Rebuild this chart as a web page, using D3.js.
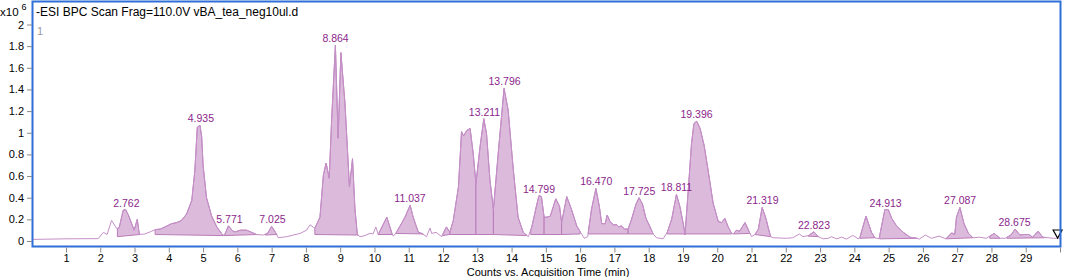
<!DOCTYPE html>
<html><head><meta charset="utf-8">
<script src="https://cdn.jsdelivr.net/npm/d3@7"></script>
<style>body{margin:0;background:#fff}svg{display:block}text{font-family:Arial,"Liberation Sans",sans-serif}</style>
</head><body><svg id="c" width="1065" height="277"></svg>
<script>
// retention time (min) and intensity (x10^6)
const traceTime = [0,0.05,1.0,1.94,2.09,2.2,2.33,2.48,2.55,2.67,2.74,2.82,2.99,3.08,3.14,3.3,3.5,3.6,3.75,3.89,4.08,4.23,4.37,4.52,4.67,4.76,4.83,4.91,4.96,5.0,5.1,5.25,5.4,5.56,5.62,5.74,5.87,5.95,6.08,6.27,6.56,6.76,6.88,7.0,7.15,7.19,7.44,7.83,8.02,8.12,8.26,8.41,8.51,8.59,8.68,8.75,8.86,8.94,9.02,9.14,9.27,9.36,9.43,9.5,9.58,9.72,9.87,9.96,10.04,10.11,10.36,10.52,10.55,10.62,10.75,10.89,11.04,11.13,11.28,11.38,11.52,11.62,11.67,11.8,11.96,12.1,12.2,12.3,12.45,12.54,12.6,12.69,12.79,12.88,12.96,13.08,13.19,13.27,13.37,13.47,13.61,13.78,13.9,14.05,14.19,14.34,14.49,14.59,14.73,14.8,14.87,14.95,15.03,15.13,15.29,15.4,15.46,15.61,15.75,15.9,16.05,16.12,16.22,16.33,16.46,16.56,16.63,16.73,16.79,16.87,16.97,17.07,17.13,17.2,17.3,17.4,17.5,17.63,17.72,17.82,17.92,18.04,18.13,18.23,18.42,18.54,18.67,18.81,18.91,19.02,19.06,19.15,19.25,19.32,19.4,19.5,19.62,19.75,19.88,20.03,20.13,20.22,20.32,20.42,20.47,20.56,20.65,20.81,20.94,21.0,21.1,21.2,21.31,21.42,21.49,21.56,21.63,22.02,22.2,22.4,22.5,22.66,22.82,22.95,23.09,23.24,23.33,23.48,23.63,23.77,23.92,23.97,24.11,24.16,24.34,24.5,24.6,24.72,24.84,24.89,24.99,25.09,25.23,25.43,25.62,25.82,25.9,26.07,26.25,26.47,26.67,26.84,26.93,26.98,27.08,27.2,27.33,27.46,27.65,27.85,28.08,28.25,28.4,28.57,28.69,28.83,28.95,29.1,29.2,29.36,29.5,29.8,30.0];
const traceValue = [0.01,0.015,0.02,0.022,0.08,0.06,0.19,0.115,0.12,0.285,0.29,0.24,0.10,0.20,0.06,0.065,0.09,0.105,0.11,0.13,0.16,0.17,0.19,0.25,0.375,0.65,1.05,1.07,0.96,0.70,0.40,0.23,0.13,0.06,0.05,0.14,0.09,0.085,0.10,0.10,0.06,0.055,0.07,0.135,0.06,0.03,0.04,0.07,0.10,0.15,0.117,0.22,0.61,0.72,0.58,1.12,1.81,0.95,1.74,1.27,0.50,0.76,0.30,0.06,0.04,0.05,0.07,0.065,0.13,0.06,0.22,0.06,0.045,0.07,0.14,0.22,0.33,0.22,0.08,0.07,0.04,0.12,0.07,0.08,0.04,0.13,0.08,0.19,0.50,1.01,0.97,1.02,1.04,0.81,0.53,0.87,1.13,0.99,0.56,0.29,0.81,1.41,1.21,0.66,0.22,0.08,0.04,0.13,0.33,0.42,0.41,0.22,0.22,0.23,0.39,0.32,0.17,0.41,0.29,0.14,0.06,0.025,0.04,0.29,0.485,0.32,0.16,0.16,0.24,0.18,0.15,0.15,0.13,0.14,0.11,0.11,0.20,0.34,0.40,0.34,0.21,0.13,0.065,0.03,0.02,0.08,0.20,0.43,0.32,0.14,0.06,0.45,0.90,1.085,1.106,1.04,0.88,0.62,0.35,0.18,0.17,0.21,0.13,0.07,0.065,0.10,0.09,0.17,0.08,0.04,0.06,0.11,0.31,0.21,0.12,0.04,0.03,0.025,0.03,0.065,0.04,0.05,0.085,0.04,0.02,0.025,0.04,0.02,0.035,0.018,0.045,0.05,0.02,0.03,0.23,0.08,0.03,0.02,0.21,0.29,0.29,0.21,0.14,0.08,0.035,0.025,0.018,0.055,0.025,0.045,0.02,0.075,0.06,0.22,0.31,0.16,0.07,0.03,0.035,0.025,0.07,0.025,0.025,0.055,0.11,0.055,0.06,0.06,0.035,0.09,0.035,0.025,0.025];

// integrated peak regions: start/end time and baseline at each end
const peakStart = [2.5,3.6,5.62,6.81,8.26,10.11,10.62,11.98,12.2,12.96,13.47,14.56,14.95,15.46,16.24,17.4,18.54,19.06,20.47,21.1,22.65,24.16,24.74,26.67,27.95,28.45];
const peakEnd   = [3.15,5.6,6.6,7.15,9.53,10.52,11.42,12.2,12.96,13.47,14.44,14.95,15.46,16.0,17.4,18.13,19.06,20.42,20.95,21.56,22.95,24.6,25.82,27.46,28.25,29.55];
const baseStart = [0.04,0.06,0.05,0.055,0.06,0.06,0.07,0.05,0.06,0.06,0.06,0.06,0.06,0.06,0.065,0.065,0.065,0.065,0.065,0.06,0.045,0.025,0.02,0.02,0.025,0.025];
const baseEnd   = [0.06,0.05,0.06,0.06,0.055,0.06,0.065,0.06,0.06,0.06,0.05,0.06,0.06,0.065,0.065,0.065,0.065,0.065,0.07,0.04,0.04,0.03,0.025,0.03,0.025,0.03];

// peak labels: retention time text and apex height
const labelText = ["2.762","4.935","5.771","7.025","8.864","11.037","13.211","13.796","14.799","16.470","17.725","18.811","19.396","21.319","22.823","24.913","27.087","28.675"];
const labelApex = [0.29,1.07,0.14,0.135,1.81,0.33,1.13,1.41,0.42,0.485,0.40,0.43,1.106,0.31,0.085,0.29,0.31,0.11];

const yTicks = [0,0.2,0.4,0.6,0.8,1,1.2,1.4,1.6,1.8,2];
const xTicks = [1,2,3,4,5,6,7,8,9,10,11,12,13,14,15,16,17,18,19,20,21,22,23,24,25,26,27,28,29,30];

const title = "-ESI BPC Scan Frag=110.0V vBA_tea_neg10ul.d";
const xTitle = "Counts vs. Acquisition Time (min)";

const svg = d3.select("#c");
const x = d3.scaleLinear().domain([0,30]).range([31.7,1060]);
const y = d3.scaleLinear().domain([0,2]).range([241,24.5]);

const pts = traceTime.map((t,i)=>[t,traceValue[i]]);
const interp = t => {
  const i = d3.bisector(d=>d[0]).right(pts,t);
  if (i<=0) return pts[0][1];
  if (i>=pts.length) return pts[pts.length-1][1];
  const a = pts[i-1], b = pts[i];
  return a[1] + (b[1]-a[1])*(t-a[0])/(b[0]-a[0]);
};
const line = d3.line().x(d=>x(d[0])).y(d=>y(d[1]));

const plot = svg.append("g");
// peak fills
peakStart.forEach((s,i)=>{
  const e = peakEnd[i];
  const poly = [[s,baseStart[i]],[s,interp(s)]]
    .concat(pts.filter(p=>p[0]>s && p[0]<e))
    .concat([[e,interp(e)],[e,baseEnd[i]]]);
  plot.append("path").attr("d", line(poly)+"Z")
    .attr("fill","#dcbadc").attr("stroke","#b97cb9").attr("stroke-width",1).attr("stroke-linejoin","round");
});
// trace
plot.append("path").attr("d", line(pts)).attr("fill","none")
  .attr("stroke","#c590c8").attr("stroke-width",1).attr("stroke-linejoin","round");

// labels
labelText.forEach((t,i)=>{
  svg.append("text").attr("x", x(+t)).attr("y", y(labelApex[i]) - 3)
    .attr("text-anchor","middle").attr("font-size",10.5).attr("fill","#8c1f8c").text(t);
});

// end marker
const mx = x(29.93), my = 234;
svg.append("path").attr("d",`M${mx-4.5},${my-4}L${mx+4.5},${my-4}L${mx},${my+4}Z`)
  .attr("fill","none").attr("stroke","#000").attr("stroke-width",1.2);

// frame
svg.append("rect").attr("x",32.5).attr("y",1.5).attr("width",1028).attr("height",245)
  .attr("fill","none").attr("stroke","#2f6fd8").attr("stroke-width",2);

// y axis
const ya = svg.append("g").attr("transform","translate(32,0)")
  .call(d3.axisLeft(y).tickValues(yTicks).tickSize(5).tickPadding(3).tickFormat(d=>String(+d.toFixed(1))));
ya.select(".domain").remove();
ya.selectAll("line").attr("stroke","#888");
ya.selectAll("text").attr("font-size",11).attr("fill","#000").style("font-family","Arial, 'Liberation Sans', sans-serif");

// x axis
const xa = svg.append("g").attr("transform","translate(0,247.5)")
  .call(d3.axisBottom(x).tickValues(xTicks).tickSize(5).tickPadding(2).tickFormat(d=>d===30?"":d));
xa.select(".domain").remove();
xa.selectAll("line").attr("stroke","#888");
xa.selectAll("text").attr("font-size",11).attr("fill","#000").style("font-family","Arial, 'Liberation Sans', sans-serif");

// texts
svg.append("text").attr("x",36).attr("y",16).attr("font-size",12).attr("fill","#000").text(title);
svg.append("text").attr("x",37).attr("y",35).attr("font-size",11).attr("fill","#999").text("1");
const mult = svg.append("text").attr("x",0).attr("y",16).attr("font-size",11.5).attr("fill","#000");
mult.append("tspan").text("x10");
mult.append("tspan").attr("dx",3).attr("dy",-6).attr("font-size",9).text("6");
svg.append("text").attr("x",548).attr("y",275.5).attr("text-anchor","middle").attr("font-size",11).attr("fill","#000").text(xTitle);
</script></body></html>
